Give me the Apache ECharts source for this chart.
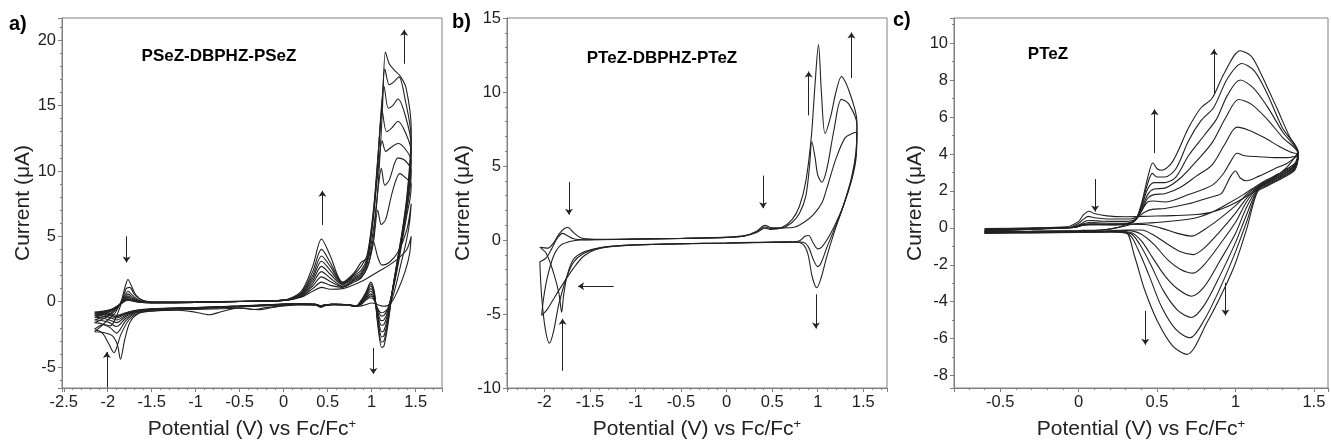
<!DOCTYPE html>
<html><head><meta charset="utf-8">
<script src="https://cdn.jsdelivr.net/npm/echarts@6/dist/echarts.min.js"></script>
<style>html,body{margin:0;padding:0;background:#fff}#c{width:1331px;height:445px}</style>
</head><body><div id="c"></div>
<script>
// ---------- Panel a: PSeZ-DBPHZ-PSeZ (9 cycles) ----------
const a1 = [[-2.15,-2.3],[-2.08,-1.9],[-2.0,-1.4],[-1.92,-0.9],[-1.85,0.0],[-1.8,1.2],[-1.77,1.7],[-1.73,1.2],[-1.68,0.5],[-1.6,0.1],[-1.45,-0.05],[-1.0,-0.02],[-0.5,0.02],[0.0,0.1],[0.2,0.35],[0.33,0.8],[0.43,1.1],[0.53,0.95],[0.67,1.0],[0.8,1.3],[0.9,1.6],[1.0,2.0],[1.1,2.4],[1.2,2.8],[1.3,3.3],[1.4,4.0],[1.45,5.0],
 [1.43,3.6],[1.38,2.3],[1.3,0.9],[1.22,-0.1],[1.14,-0.35],[1.08,-0.25],[1.0,-0.1],[0.92,-0.25],[0.85,-0.35],[0.75,-0.22],[0.6,-0.2],[0.47,-0.3],[0.42,-0.42],[0.36,-0.25],[0.2,-0.25],[0.0,-0.32],[-0.2,-0.45],[-0.35,-0.6],[-0.5,-0.48],[-0.7,-0.75],[-0.85,-1.0],[-1.0,-0.8],[-1.2,-0.65],[-1.5,-0.72],[-1.65,-0.9],[-1.75,-1.6],[-1.81,-3.0],[-1.855,-4.4],[-1.89,-3.3],[-1.95,-2.6],[-2.05,-2.35],[-2.15,-2.3]];
const a2 = [[-2.15,-2.1],[-2.05,-1.75],[-1.97,-1.85],[-1.9,-1.1],[-1.84,0.0],[-1.79,1.0],[-1.75,1.1],[-1.7,0.6],[-1.62,0.15],[-1.5,0.0],[-1.0,0.0],[-0.5,0.03],[0.0,0.1],[0.2,0.4],[0.33,1.0],[0.43,1.5],[0.53,1.25],[0.67,1.1],[0.8,1.5],[0.88,1.8],[0.97,3.0],[1.02,4.6],[1.07,3.4],[1.12,2.8],[1.2,3.0],[1.3,3.8],[1.4,5.5],[1.45,7.5],
 [1.43,6.0],[1.39,4.5],[1.33,2.8],[1.27,1.1],[1.2,-0.4],[1.14,-0.8],[1.11,-0.85],[1.06,-0.4],[1.02,0.2],[0.98,0.3],[0.93,0.1],[0.87,-0.25],[0.8,-0.35],[0.7,-0.22],[0.55,-0.22],[0.46,-0.32],[0.42,-0.4],[0.36,-0.25],[0.15,-0.2],[0.0,-0.28],[-0.3,-0.62],[-0.45,-0.5],[-0.8,-0.55],[-1.2,-0.62],[-1.5,-0.7],[-1.65,-0.85],[-1.76,-1.4],[-1.85,-2.5],[-1.93,-3.9],[-1.99,-3.2],[-2.06,-2.4],[-2.15,-2.1]];
const a3 = [[-2.15,-1.6],[-2.05,-1.3],[-1.95,-0.9],[-1.86,-0.2],[-1.8,0.55],[-1.77,0.8],[-1.72,0.5],[-1.64,0.1],[-1.5,-0.05],[-1.0,-0.03],[-0.5,0.03],[0.0,0.1],[0.2,0.45],[0.33,1.2],[0.43,1.9],[0.53,1.55],[0.67,1.15],[0.8,1.6],[0.88,1.9],[0.95,2.6],[1.02,4.5],[1.07,7.0],[1.11,5.9],[1.16,6.3],[1.24,8.5],[1.32,9.8],[1.4,9.4],[1.45,9.0],
 [1.44,8.0],[1.4,6.6],[1.35,4.7],[1.3,2.8],[1.24,0.8],[1.18,-0.6],[1.14,-1.05],[1.11,-1.1],[1.07,-0.6],[1.03,0.2],[0.99,0.45],[0.94,0.2],[0.88,-0.2],[0.82,-0.35],[0.72,-0.22],[0.55,-0.22],[0.46,-0.3],[0.42,-0.38],[0.36,-0.25],[0.15,-0.2],[0.0,-0.25],[-0.5,-0.4],[-1.0,-0.52],[-1.5,-0.65],[-1.68,-0.85],[-1.8,-1.5],[-1.9,-2.4],[-1.97,-2.0],[-2.06,-1.7],[-2.15,-1.6]];
const a4 = [[-2.15,-1.4],[-2.05,-1.15],[-1.95,-0.8],[-1.86,-0.2],[-1.8,0.4],[-1.77,0.6],[-1.72,0.35],[-1.64,0.05],[-1.5,-0.07],[-1.0,-0.04],[-0.5,0.02],[0.0,0.1],[0.2,0.5],[0.33,1.4],[0.43,2.3],[0.53,1.8],[0.67,1.2],[0.8,1.7],[0.88,2.0],[0.95,2.9],[1.02,5.5],[1.08,9.0],[1.11,10.2],[1.15,8.9],[1.2,9.3],[1.3,11.0],[1.38,10.8],[1.45,10.0],
 [1.44,8.8],[1.4,7.0],[1.35,5.0],[1.3,3.0],[1.24,0.9],[1.18,-0.8],[1.14,-1.4],[1.11,-1.45],[1.07,-0.8],[1.03,0.3],[0.99,0.6],[0.94,0.3],[0.88,-0.15],[0.82,-0.35],[0.72,-0.22],[0.55,-0.2],[0.46,-0.28],[0.42,-0.36],[0.36,-0.22],[0.15,-0.18],[0.0,-0.22],[-0.5,-0.38],[-1.0,-0.5],[-1.5,-0.62],[-1.68,-0.8],[-1.8,-1.3],[-1.9,-1.9],[-1.98,-1.6],[-2.06,-1.45],[-2.15,-1.4]];
const a5 = [[-2.15,-1.2],[-2.05,-1.0],[-1.95,-0.7],[-1.86,-0.2],[-1.8,0.3],[-1.77,0.45],[-1.72,0.25],[-1.64,0.0],[-1.5,-0.08],[-1.0,-0.05],[-0.5,0.02],[0.0,0.1],[0.2,0.55],[0.33,1.6],[0.43,2.7],[0.53,2.1],[0.67,1.3],[0.8,1.8],[0.88,2.1],[0.95,3.1],[1.02,6.5],[1.08,10.5],[1.12,12.3],[1.16,11.5],[1.22,11.8],[1.3,12.1],[1.38,11.7],[1.45,10.8],
 [1.44,9.4],[1.4,7.2],[1.35,5.1],[1.3,3.1],[1.24,1.0],[1.18,-1.0],[1.14,-1.75],[1.11,-1.8],[1.07,-1.0],[1.03,0.4],[0.99,0.8],[0.94,0.4],[0.88,-0.1],[0.82,-0.35],[0.72,-0.22],[0.55,-0.2],[0.46,-0.26],[0.42,-0.34],[0.36,-0.2],[0.15,-0.17],[0.0,-0.2],[-0.5,-0.36],[-1.0,-0.48],[-1.5,-0.6],[-1.68,-0.75],[-1.8,-1.15],[-1.9,-1.6],[-1.98,-1.4],[-2.06,-1.25],[-2.15,-1.2]];
const a6 = [[-2.15,-1.05],[-2.05,-0.9],[-1.95,-0.65],[-1.86,-0.2],[-1.8,0.22],[-1.77,0.35],[-1.72,0.18],[-1.64,0.0],[-1.5,-0.08],[-1.0,-0.05],[-0.5,0.02],[0.0,0.1],[0.2,0.6],[0.33,1.8],[0.43,3.1],[0.53,2.4],[0.67,1.35],[0.8,1.9],[0.88,2.2],[0.95,3.2],[1.02,6.5],[1.07,10.5],[1.12,14.6],[1.17,13.0],[1.23,13.3],[1.3,13.8],[1.38,13.0],[1.45,11.5],
 [1.44,10.0],[1.4,7.4],[1.35,5.2],[1.3,3.2],[1.24,1.0],[1.18,-1.3],[1.14,-2.2],[1.115,-2.3],[1.07,-1.2],[1.03,0.5],[0.99,1.0],[0.94,0.5],[0.88,-0.05],[0.82,-0.35],[0.72,-0.22],[0.55,-0.2],[0.46,-0.25],[0.42,-0.33],[0.36,-0.2],[0.15,-0.17],[0.0,-0.2],[-0.5,-0.35],[-1.0,-0.47],[-1.5,-0.58],[-1.68,-0.72],[-1.8,-1.05],[-1.9,-1.4],[-1.98,-1.2],[-2.06,-1.1],[-2.15,-1.05]];
const a7 = [[-2.15,-0.95],[-2.05,-0.82],[-1.95,-0.6],[-1.86,-0.2],[-1.8,0.15],[-1.77,0.25],[-1.72,0.12],[-1.64,-0.02],[-1.5,-0.08],[-1.0,-0.05],[-0.5,0.02],[0.0,0.1],[0.2,0.65],[0.33,2.0],[0.43,3.5],[0.53,2.7],[0.67,1.4],[0.8,2.0],[0.88,2.4],[0.95,3.4],[1.02,6.8],[1.07,10.8],[1.11,14.8],[1.14,16.5],[1.19,14.8],[1.24,15.0],[1.3,15.5],[1.38,14.3],[1.45,12.0],
 [1.44,10.4],[1.4,7.6],[1.35,5.3],[1.3,3.3],[1.24,1.0],[1.18,-1.5],[1.14,-2.6],[1.115,-2.7],[1.07,-1.4],[1.03,0.6],[0.99,1.2],[0.94,0.6],[0.88,0.0],[0.82,-0.35],[0.72,-0.22],[0.55,-0.2],[0.46,-0.25],[0.42,-0.32],[0.36,-0.2],[0.15,-0.16],[0.0,-0.19],[-0.5,-0.34],[-1.0,-0.46],[-1.5,-0.57],[-1.68,-0.7],[-1.8,-0.95],[-1.9,-1.25],[-1.98,-1.05],[-2.06,-0.98],[-2.15,-0.95]];
const a8 = [[-2.15,-0.88],[-2.05,-0.78],[-1.95,-0.58],[-1.86,-0.2],[-1.8,0.1],[-1.77,0.18],[-1.72,0.08],[-1.64,-0.03],[-1.5,-0.08],[-1.0,-0.05],[-0.5,0.02],[0.0,0.12],[0.2,0.7],[0.33,2.3],[0.43,4.0],[0.53,3.0],[0.67,1.45],[0.8,2.1],[0.88,2.7],[0.95,3.6],[1.02,7.0],[1.07,11.0],[1.12,15.3],[1.15,17.8],[1.2,16.6],[1.25,16.8],[1.31,17.2],[1.38,15.5],[1.45,12.5],
 [1.44,10.8],[1.4,7.8],[1.35,5.4],[1.3,3.4],[1.24,1.0],[1.18,-1.8],[1.14,-3.0],[1.115,-3.1],[1.07,-1.6],[1.03,0.7],[0.99,1.35],[0.94,0.7],[0.88,0.05],[0.82,-0.35],[0.72,-0.22],[0.55,-0.2],[0.46,-0.25],[0.42,-0.32],[0.36,-0.2],[0.15,-0.16],[0.0,-0.18],[-0.5,-0.33],[-1.0,-0.45],[-1.5,-0.56],[-1.68,-0.68],[-1.8,-0.9],[-1.9,-1.15],[-1.98,-0.98],[-2.06,-0.9],[-2.15,-0.88]];
const a9 = [[-2.15,-0.8],[-2.05,-0.72],[-1.95,-0.55],[-1.86,-0.2],[-1.8,0.05],[-1.77,0.12],[-1.72,0.05],[-1.64,-0.04],[-1.5,-0.08],[-1.0,-0.05],[-0.5,0.02],[0.0,0.12],[0.2,0.8],[0.33,2.7],[0.43,4.8],[0.53,3.5],[0.67,1.5],[0.8,2.2],[0.88,3.0],[0.95,3.3],[1.0,4.0],[1.065,8.1],[1.12,14.3],[1.157,19.1],[1.2,18.2],[1.26,17.7],[1.32,17.3],[1.39,16.4],[1.45,13.2],
 [1.44,11.2],[1.4,8.0],[1.35,5.5],[1.3,3.5],[1.24,1.0],[1.18,-2.0],[1.14,-3.4],[1.115,-3.5],[1.07,-1.8],[1.03,0.8],[0.99,1.5],[0.94,0.8],[0.88,0.1],[0.82,-0.35],[0.72,-0.22],[0.55,-0.2],[0.46,-0.25],[0.42,-0.32],[0.36,-0.2],[0.15,-0.15],[0.0,-0.18],[-0.5,-0.32],[-1.0,-0.44],[-1.5,-0.55],[-1.68,-0.66],[-1.8,-0.85],[-1.9,-1.05],[-1.98,-0.9],[-2.06,-0.83],[-2.15,-0.8]];

// ---------- Panel b: PTeZ-DBPHZ-PTeZ (3 cycles) ----------
const b1 = [[-2.05,-0.5],[-1.96,-0.55],[-1.9,-0.2],[-1.84,0.4],[-1.78,0.78],[-1.74,0.84],[-1.68,0.5],[-1.6,0.15],[-1.45,0.05],[-1.0,0.08],[-0.5,0.12],[0.0,0.2],[0.2,0.3],[0.33,0.6],[0.42,1.0],[0.48,0.85],[0.6,0.82],[0.75,0.88],[0.85,1.2],[0.95,1.7],[1.045,2.5],[1.1,3.5],[1.2,5.5],[1.3,6.9],[1.38,7.2],[1.43,7.3],
 [1.42,5.5],[1.37,4.0],[1.28,2.3],[1.18,0.9],[1.1,0.0],[1.04,-0.5],[1.0,-0.6],[0.95,-0.2],[0.9,0.3],[0.86,0.25],[0.8,-0.05],[0.7,-0.15],[0.3,-0.18],[0.0,-0.22],[-0.5,-0.26],[-1.0,-0.33],[-1.3,-0.45],[-1.45,-0.6],[-1.58,-0.85],[-1.68,-1.3],[-1.75,-2.4],[-1.79,-3.8],[-1.81,-4.88],[-1.84,-3.6],[-1.9,-2.2],[-1.98,-0.9],[-2.05,-0.5]];
const b2 = [[-2.05,-1.47],[-1.98,-1.2],[-1.92,-0.6],[-1.86,0.1],[-1.8,0.45],[-1.75,0.3],[-1.68,0.08],[-1.55,0.02],[-1.0,0.06],[-0.5,0.1],[0.0,0.18],[0.2,0.28],[0.33,0.55],[0.42,0.9],[0.48,0.78],[0.6,0.8],[0.72,1.2],[0.8,1.8],[0.87,3.0],[0.91,5.0],[0.935,6.66],[0.97,5.6],[1.0,4.4],[1.045,3.9],[1.1,4.8],[1.18,7.5],[1.26,9.5],[1.34,9.2],[1.43,7.8],
 [1.42,5.8],[1.37,4.1],[1.28,2.3],[1.18,0.7],[1.1,-0.5],[1.04,-1.5],[1.0,-1.8],[0.95,-1.3],[0.9,-0.5],[0.84,-0.15],[0.7,-0.13],[0.3,-0.17],[0.0,-0.2],[-0.5,-0.25],[-1.0,-0.32],[-1.3,-0.44],[-1.45,-0.62],[-1.58,-0.95],[-1.68,-1.5],[-1.76,-2.6],[-1.84,-4.3],[-1.9,-6.2],[-1.945,-6.97],[-1.99,-6.0],[-2.03,-3.8],[-2.05,-1.47]];
const b3 = [[-2.03,-5.1],[-2.01,-4.0],[-1.97,-2.6],[-1.9,-1.1],[-1.82,-0.35],[-1.72,-0.1],[-1.6,0.0],[-1.0,0.05],[-0.5,0.1],[0.0,0.17],[0.2,0.27],[0.33,0.5],[0.42,0.8],[0.48,0.72],[0.6,0.82],[0.72,1.4],[0.8,2.3],[0.87,4.0],[0.93,7.0],[0.97,10.5],[1.008,13.2],[1.04,10.0],[1.08,7.2],[1.14,8.3],[1.2,10.0],[1.26,11.05],[1.33,10.3],[1.43,8.0],
 [1.42,6.0],[1.37,4.2],[1.28,2.3],[1.18,0.5],[1.1,-1.1],[1.04,-2.5],[0.99,-3.23],[0.94,-2.5],[0.89,-0.9],[0.83,-0.25],[0.7,-0.12],[0.3,-0.16],[0.0,-0.2],[-0.5,-0.25],[-1.0,-0.34],[-1.3,-0.47],[-1.45,-0.68],[-1.57,-1.1],[-1.68,-1.9],[-1.8,-3.0],[-1.9,-4.0],[-1.97,-4.7],[-2.03,-5.1]];

// ---------- Panel c: PTeZ (8 cycles) ----------
const c1 = [[-0.6,-0.04],[-0.3,0.0],[-0.08,0.05],[0.0,0.35],[0.03,0.7],[0.065,0.9],[0.1,0.78],[0.18,0.65],[0.3,0.6],[0.45,0.63],[0.6,0.66],[0.75,0.72],[0.85,0.85],[0.95,1.15],[1.05,1.6],[1.15,2.2],[1.25,2.75],[1.33,3.3],[1.4,4.1],
 [1.38,3.5],[1.3,3.05],[1.2,2.6],[1.14,2.3],[1.05,1.8],[0.95,1.3],[0.85,0.85],[0.75,0.55],[0.62,0.38],[0.48,0.28],[0.36,0.22],[0.27,0.05],[0.15,-0.1],[0.0,-0.14],[-0.3,-0.18],[-0.6,-0.2]];
const c2 = [[-0.6,-0.08],[-0.3,-0.02],[-0.06,0.03],[0.0,0.25],[0.035,0.5],[0.06,0.62],[0.1,0.55],[0.2,0.48],[0.33,0.48],[0.38,0.6],[0.42,0.85],[0.47,1.0],[0.55,1.05],[0.7,1.3],[0.8,1.55],[0.88,1.75],[0.91,1.85],[0.94,2.3],[0.97,2.8],[1.0,3.08],[1.03,2.7],[1.07,2.55],[1.15,2.8],[1.25,3.2],[1.33,3.5],[1.4,3.95],
 [1.38,3.45],[1.3,3.0],[1.2,2.55],[1.14,2.25],[1.07,1.8],[1.0,1.2],[0.9,0.5],[0.8,-0.1],[0.72,-0.45],[0.63,-0.3],[0.52,0.0],[0.42,0.18],[0.32,0.2],[0.24,0.0],[0.15,-0.12],[0.0,-0.16],[-0.3,-0.2],[-0.6,-0.22]];
const c3 = [[-0.6,-0.1],[-0.3,-0.03],[-0.05,0.02],[0.0,0.15],[0.05,0.38],[0.08,0.4],[0.15,0.36],[0.3,0.35],[0.36,0.45],[0.4,0.9],[0.44,1.4],[0.48,1.45],[0.55,1.4],[0.7,1.8],[0.85,2.3],[0.92,2.9],[0.97,3.6],[1.01,4.04],[1.06,3.9],[1.15,3.85],[1.25,3.8],[1.33,3.8],[1.4,3.9],
 [1.38,3.4],[1.3,2.95],[1.2,2.5],[1.14,2.2],[1.07,1.6],[1.0,0.8],[0.9,-0.2],[0.8,-1.1],[0.73,-1.45],[0.65,-1.3],[0.57,-0.9],[0.48,-0.4],[0.4,-0.12],[0.3,-0.12],[0.15,-0.18],[0.0,-0.2],[-0.3,-0.22],[-0.6,-0.24]];
const c4 = [[-0.6,-0.12],[-0.3,-0.04],[-0.04,0.02],[0.02,0.2],[0.08,0.3],[0.15,0.26],[0.3,0.25],[0.36,0.4],[0.4,0.9],[0.44,1.6],[0.48,1.8],[0.55,1.85],[0.65,2.2],[0.75,2.8],[0.85,3.4],[0.93,4.5],[1.01,5.45],[1.08,5.3],[1.18,4.9],[1.28,4.4],[1.35,4.1],[1.4,3.95],
 [1.38,3.35],[1.3,2.9],[1.2,2.45],[1.14,2.15],[1.07,1.4],[1.0,0.3],[0.9,-0.9],[0.8,-2.0],[0.73,-2.45],[0.65,-2.25],[0.57,-1.75],[0.48,-0.9],[0.4,-0.35],[0.32,-0.15],[0.15,-0.19],[0.0,-0.21],[-0.3,-0.23],[-0.6,-0.25]];
const c5 = [[-0.6,-0.14],[-0.3,-0.05],[-0.03,0.02],[0.03,0.18],[0.08,0.22],[0.2,0.2],[0.3,0.22],[0.36,0.4],[0.4,1.0],[0.44,1.8],[0.48,2.1],[0.55,2.15],[0.65,2.7],[0.75,3.6],[0.85,4.6],[0.94,6.0],[1.02,6.95],[1.1,6.7],[1.2,5.9],[1.3,4.9],[1.4,4.0],
 [1.38,3.3],[1.3,2.85],[1.2,2.4],[1.14,2.1],[1.07,1.1],[1.0,-0.3],[0.9,-1.8],[0.8,-3.2],[0.72,-3.7],[0.63,-3.3],[0.55,-2.6],[0.47,-1.6],[0.4,-0.7],[0.33,-0.25],[0.2,-0.2],[0.0,-0.22],[-0.3,-0.24],[-0.6,-0.26]];
const c6 = [[-0.6,-0.16],[-0.3,-0.06],[-0.03,0.02],[0.03,0.16],[0.08,0.2],[0.2,0.18],[0.3,0.2],[0.36,0.4],[0.4,1.1],[0.44,2.1],[0.48,2.45],[0.55,2.45],[0.62,2.75],[0.7,3.9],[0.8,5.0],[0.88,5.9],[0.95,7.2],[1.03,8.0],[1.11,7.6],[1.2,6.6],[1.3,5.2],[1.4,4.0],
 [1.38,3.25],[1.3,2.8],[1.2,2.35],[1.14,2.05],[1.07,0.7],[1.0,-0.8],[0.9,-2.6],[0.8,-4.2],[0.72,-4.85],[0.63,-4.45],[0.54,-3.4],[0.46,-2.0],[0.39,-0.9],[0.33,-0.3],[0.2,-0.21],[0.0,-0.23],[-0.3,-0.25],[-0.6,-0.27]];
const c7 = [[-0.6,-0.18],[-0.3,-0.07],[-0.03,0.02],[0.03,0.15],[0.08,0.18],[0.2,0.17],[0.3,0.2],[0.36,0.4],[0.4,1.2],[0.44,2.4],[0.47,2.95],[0.5,2.75],[0.55,2.75],[0.62,3.2],[0.7,4.7],[0.78,5.8],[0.86,6.5],[0.95,8.1],[1.04,8.9],[1.12,8.5],[1.2,7.3],[1.3,5.4],[1.4,4.05],
 [1.38,3.2],[1.3,2.75],[1.2,2.3],[1.14,2.0],[1.07,0.3],[1.0,-1.3],[0.9,-3.3],[0.8,-5.0],[0.71,-5.95],[0.62,-5.5],[0.53,-4.3],[0.45,-2.6],[0.38,-1.2],[0.32,-0.35],[0.2,-0.22],[0.0,-0.24],[-0.3,-0.26],[-0.6,-0.28]];
const c8 = [[-0.6,-0.2],[-0.3,-0.08],[-0.03,0.02],[0.03,0.14],[0.08,0.17],[0.2,0.16],[0.3,0.2],[0.36,0.4],[0.4,1.3],[0.44,2.7],[0.473,3.52],[0.5,3.2],[0.53,3.12],[0.6,3.6],[0.7,5.4],[0.78,6.5],[0.85,7.0],[0.93,8.4],[1.03,9.59],[1.1,9.3],[1.157,8.44],[1.263,6.5],[1.347,4.9],[1.4,4.1],
 [1.38,3.15],[1.3,2.7],[1.2,2.25],[1.14,1.95],[1.07,-0.1],[1.0,-1.9],[0.926,-3.34],[0.82,-5.1],[0.69,-6.85],[0.6,-6.4],[0.505,-5.1],[0.42,-3.34],[0.358,-1.58],[0.295,-0.18],[0.2,-0.22],[0.0,-0.25],[-0.3,-0.27],[-0.6,-0.3]];

// ---------- arrows (data coords: [[x1,y1],[x2,y2]], head at second point) ----------
const arrowsA = [[[-1.786,5.0],[-1.786,3.0]],[[-2.01,-6.57],[-2.01,-3.85]],[[0.44,5.87],[0.44,8.49]],[[1.02,-3.53],[1.02,-5.52]],[[1.37,18.2],[1.37,20.8]]];
const arrowsB = [[[-1.73,3.91],[-1.73,1.71]],[[-1.80,-8.84],[-1.80,-5.32]],[[-1.24,-3.12],[-1.63,-3.12]],[[0.40,4.35],[0.40,2.15]],[[0.90,8.42],[0.90,11.38]],[[0.98,-3.67],[0.98,-5.98]],[[1.37,10.95],[1.37,14.02]]];
const arrowsC = [[[0.105,2.64],[0.105,0.88]],[[0.484,4.05],[0.484,6.42]],[[0.863,7.21],[0.863,9.67]],[[0.425,-4.49],[0.425,-6.33]],[[0.936,-2.99],[0.936,-4.75]]];

// ---------- text ----------
const panelLetters = ['a)','b)','c)'];
const panelNames = ['PSeZ-DBPHZ-PSeZ','PTeZ-DBPHZ-PTeZ','PTeZ'];
const xName = 'Potential (V) vs Fc/Fc';
const yName = 'Current (μA)';

const FONT = '"Liberation Sans", Arial, sans-serif';
const AX = '#808080';
function fmt(step){ return function(v){ const r=v/step; if(Math.abs(r-Math.round(r))>1e-6) return ''; return String(Math.round(v*100)/100); }; }
function xAxis(g,min,max,split){ return {type:'value',gridIndex:g,min:min,max:max,splitNumber:split,
  axisLine:{show:true,onZero:false,lineStyle:{color:AX,width:1}},axisTick:{show:true,length:4,lineStyle:{color:AX}},
  minorTick:{show:true,splitNumber:5,length:2,lineStyle:{color:AX}},splitLine:{show:false},
  axisLabel:{formatter:fmt(0.5),color:'#222',fontSize:16.5,fontFamily:FONT,margin:6},
  name:'{m|'+xName+'}{s|+}',nameLocation:'middle',nameGap:28,
  nameTextStyle:{rich:{m:{fontSize:21,fontFamily:FONT,color:'#222',verticalAlign:'bottom',lineHeight:24},s:{fontSize:13,fontFamily:FONT,color:'#222',verticalAlign:'bottom',lineHeight:24,padding:[0,0,9,0]}}}}; }
function yAxis(g,min,max,split,step,minor,gap){ return {type:'value',gridIndex:g,min:min,max:max,splitNumber:split,
  axisLine:{show:true,onZero:false,lineStyle:{color:AX,width:1}},axisTick:{show:true,length:4,lineStyle:{color:AX}},
  minorTick:{show:true,splitNumber:minor,length:2,lineStyle:{color:AX}},splitLine:{show:false},
  axisLabel:{formatter:fmt(step),color:'#222',fontSize:16.5,fontFamily:FONT,margin:6},
  name:yName,nameLocation:'middle',nameGap:gap,nameTextStyle:{fontSize:21,fontFamily:FONT,color:'#222'}}; }

const curveStyle = {color:'#222',width:1.1};
function curve(d,g){ return {type:'line',xAxisIndex:g,yAxisIndex:g,data:d,showSymbol:false,symbol:'none',smooth:0.3,lineStyle:curveStyle,silent:true,animation:false,z:2}; }
function arrows(list,g){ return {type:'lines',coordinateSystem:'cartesian2d',xAxisIndex:g,yAxisIndex:g,silent:true,animation:false,
  symbol:['none','arrow'],symbolSize:[1,6],lineStyle:{color:'#222',width:1,opacity:1},
  data:list.map(function(p){return {coords:p};}),z:3}; }

const series = [];
[a1,a2,a3,a4,a5,a6,a7,a8,a9].forEach(function(d){series.push(curve(d,0));});
[b1,b2,b3].forEach(function(d){series.push(curve(d,1));});
[c1,c2,c3,c4,c5,c6,c7,c8].forEach(function(d){series.push(curve(d,2));});
series.push(arrows(arrowsA,0),arrows(arrowsB,1),arrows(arrowsC,2));

const chart = echarts.init(document.getElementById('c'),null,{renderer:'canvas'});
chart.setOption({
  animation:false,backgroundColor:'#fff',
  grid:[
    {left:62,top:18,width:380,height:379,show:true,borderColor:AX,borderWidth:1,backgroundColor:'transparent'},
    {left:507,top:18,width:380,height:380,show:true,borderColor:AX,borderWidth:1,backgroundColor:'transparent'},
    {left:954,top:18,width:378,height:380,show:true,borderColor:AX,borderWidth:1,backgroundColor:'transparent'}
  ],
  xAxis:[xAxis(0,-2.52,1.8,8),xAxis(1,-2.41,1.76,8),xAxis(2,-0.795,1.59,5)],
  yAxis:[yAxis(0,-6.6,21.7,5,5,5,27),yAxis(1,-10,15,5,5,5,23),yAxis(2,-8.67,11.36,10,2,2,25)],
  graphic:[
    {type:'text',x:9,y:14,style:{text:panelLetters[0],fontSize:20,fontWeight:'bold',fontFamily:FONT,fill:'#000'}},
    {type:'text',x:452,y:12,style:{text:panelLetters[1],fontSize:20,fontWeight:'bold',fontFamily:FONT,fill:'#000'}},
    {type:'text',x:893,y:10,style:{text:panelLetters[2],fontSize:20,fontWeight:'bold',fontFamily:FONT,fill:'#000'}},
    {type:'text',x:219,y:56,style:{text:panelNames[0],fontSize:17,fontWeight:'bold',fontFamily:FONT,fill:'#000',align:'center',verticalAlign:'middle'}},
    {type:'text',x:662,y:58,style:{text:panelNames[1],fontSize:17,fontWeight:'bold',fontFamily:FONT,fill:'#000',align:'center',verticalAlign:'middle'}},
    {type:'text',x:1048,y:54,style:{text:panelNames[2],fontSize:17,fontWeight:'bold',fontFamily:FONT,fill:'#000',align:'center',verticalAlign:'middle'}}
  ],
  series:series
});
</script></body></html>
